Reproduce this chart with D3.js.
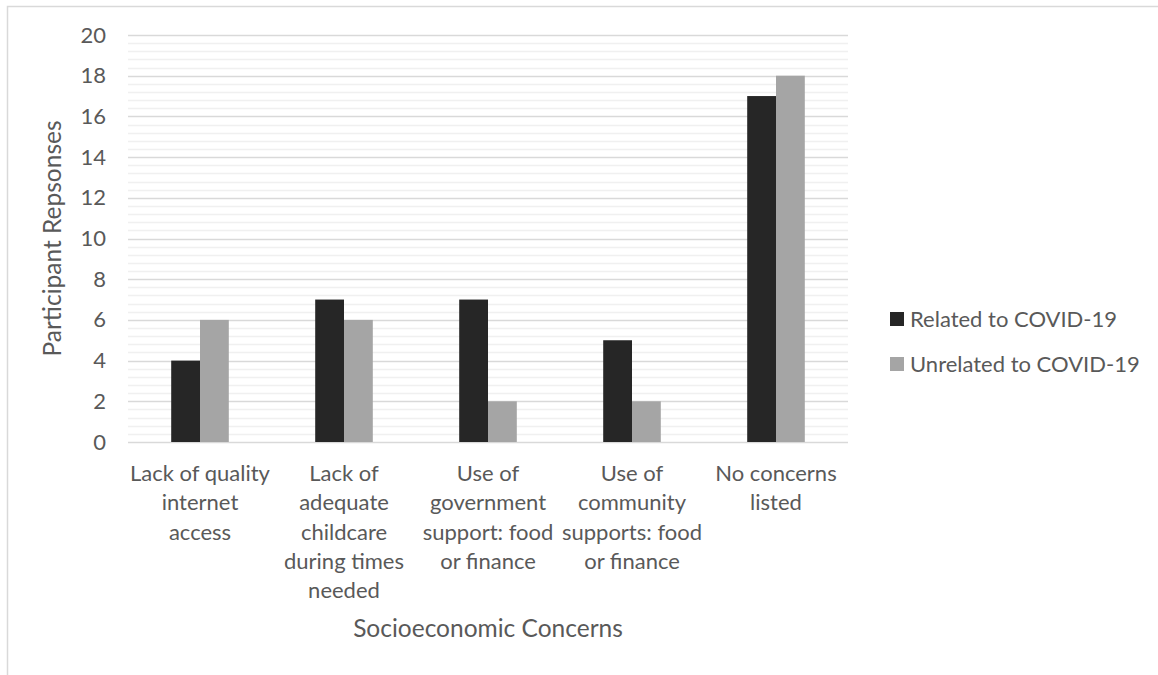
<!DOCTYPE html>
<html>
<head>
<meta charset="utf-8">
<script src="https://cdn.jsdelivr.net/npm/d3@7"></script>
<style>
  html, body { margin: 0; padding: 0; background: #fff; }
  svg { display: block; font-family: Lato, 'Open Sans', sans-serif; }
</style>
</head>
<body>
<div id="chart-container"></div>
<script>
// ==== data ====
const categories = [
  'Lack of quality internet access',
  'Lack of adequate childcare during times needed',
  'Use of government support: food or finance',
  'Use of community supports: food or finance',
  'No concerns listed',
]
// how Excel wrapped the category labels
const categoryLines = [
  ['Lack of quality', 'internet', 'access'],
  ['Lack of', 'adequate', 'childcare', 'during times', 'needed'],
  ['Use of', 'government', 'support: food', 'or finance'],
  ['Use of', 'community', 'supports: food', 'or finance'],
  ['No concerns', 'listed'],
]
const seriesNames = ['Related to COVID-19', 'Unrelated to COVID-19']
const relatedValues = [4, 7, 7, 5, 17]
const unrelatedValues = [6, 6, 2, 2, 18]
const yTicks = [0, 2, 4, 6, 8, 10, 12, 14, 16, 18, 20]

;(function () {
  const W = 1158
  const H = 675
  const colors = ['#262626', '#a5a5a5']
  const textColor = '#595959'

  const plot = { left: 128, right: 848, top: 35, bottom: 442 }

  const svg = d3
    .select('#chart-container')
    .append('svg')
    .attr('width', W)
    .attr('height', H)

  // chart border (only top and left visible in the crop)
  svg
    .append('path')
    .attr('d', `M7.5,${H} V6.5 H${W}`)
    .attr('fill', 'none')
    .attr('stroke', '#d9d9d9')
    .attr('stroke-width', 1.5)

  const x = d3
    .scaleBand()
    .domain(categories)
    .range([plot.left, plot.right])
    .padding(0)

  const y = d3.scaleLinear().domain([0, 20]).range([plot.bottom, plot.top])

  // minor gridlines every 0.4
  const minorTicks = d3.range(0, 20.001, 0.4).filter(
    (v) => Math.abs(v / 2 - Math.round(v / 2)) > 1e-6,
  )
  svg
    .append('g')
    .selectAll('line')
    .data(minorTicks)
    .join('line')
    .attr('x1', plot.left)
    .attr('x2', plot.right)
    .attr('y1', (d) => Math.round(y(d)) + 0.5)
    .attr('y2', (d) => Math.round(y(d)) + 0.5)
    .attr('stroke', '#f0f0f0')
    .attr('stroke-width', 1.3)

  // major gridlines
  svg
    .append('g')
    .selectAll('line')
    .data(yTicks)
    .join('line')
    .attr('x1', plot.left)
    .attr('x2', plot.right)
    .attr('y1', (d) => Math.round(y(d)) + 0.5)
    .attr('y2', (d) => Math.round(y(d)) + 0.5)
    .attr('stroke', '#d9d9d9')
    .attr('stroke-width', 1.5)

  // y tick labels
  const yAxis = svg
    .append('g')
    .attr('transform', `translate(${plot.left - 22},0)`)
    .call(d3.axisLeft(y).tickValues(yTicks).tickSize(0).tickPadding(0))
  yAxis.select('.domain').remove()
  yAxis
    .selectAll('text')
    .attr('fill', textColor)
    .attr('font-size', 22)
    .attr('font-family', 'Lato, sans-serif')

  // bars
  const barW = x.bandwidth() * 0.2
  const series = [relatedValues, unrelatedValues]
  series.forEach((vals, si) => {
    svg
      .append('g')
      .selectAll('rect')
      .data(vals)
      .join('rect')
      .attr('x', (d, i) => x(categories[i]) + x.bandwidth() / 2 - barW + si * barW)
      .attr('y', (d) => y(d))
      .attr('width', barW)
      .attr('height', (d) => y(0) - y(d))
      .attr('fill', colors[si])
  })

  // x category labels
  const lineH = 29.3
  const xLabels = svg.append('g')
  categories.forEach((c, i) => {
    const t = xLabels
      .append('text')
      .attr('text-anchor', 'middle')
      .attr('fill', textColor)
      .attr('font-size', 22)
      .attr('x', x(c) + x.bandwidth() / 2)
      .attr('y', 481)
    categoryLines[i].forEach((ln, j) => {
      t.append('tspan')
        .attr('x', x(c) + x.bandwidth() / 2)
        .attr('dy', j === 0 ? 0 : lineH)
        .text(ln)
    })
  })

  // axis titles
  svg
    .append('text')
    .attr('x', (plot.left + plot.right) / 2)
    .attr('y', 637)
    .attr('text-anchor', 'middle')
    .attr('fill', textColor)
    .attr('font-size', 24.5)
    .text('Socioeconomic Concerns')

  svg
    .append('text')
    .attr('transform', `translate(61,${(plot.top + plot.bottom) / 2}) rotate(-90)`)
    .attr('text-anchor', 'middle')
    .attr('fill', textColor)
    .attr('font-size', 24.5)
    .text('Participant Repsonses')

  // legend
  const legendY = [319, 364]
  const legend = svg
    .append('g')
    .selectAll('g')
    .data(seriesNames)
    .join('g')
    .attr('transform', (d, i) => `translate(890,${legendY[i]})`)
  legend
    .append('rect')
    .attr('x', 0)
    .attr('y', -7)
    .attr('width', 14)
    .attr('height', 14)
    .attr('fill', (d, i) => colors[i])
  legend
    .append('text')
    .attr('x', 20)
    .attr('y', 8)
    .attr('fill', textColor)
    .attr('font-size', 22)
    .text((d) => d)
})()
</script>
</body>
</html>
